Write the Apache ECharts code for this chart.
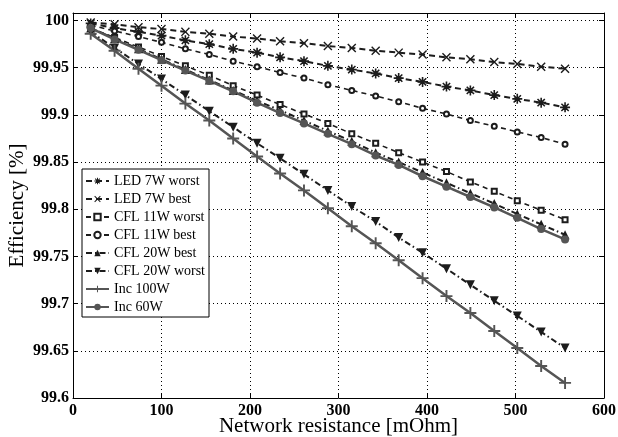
<!DOCTYPE html>
<html>
<head>
<meta charset="utf-8">
<script src="https://cdn.jsdelivr.net/npm/echarts@6/dist/echarts.min.js"></script>
<style>
html,body{margin:0;padding:0;background:#fff;}
#chart{width:618px;height:437px;}
</style>
</head>
<body>
<div id="chart"></div>
<script>
// Network resistance [mOhm]
const resistance = [20, 47, 74, 100, 127, 154, 181, 208, 234, 261, 288, 315, 342, 368, 395, 422, 449, 476, 502, 529, 556];

const seriesNames = ['LED 7W worst', 'LED 7W best', 'CFL 11W worst', 'CFL 11W best', 'CFL 20W best', 'CFL 20W worst', 'Inc 100W', 'Inc 60W'];

const led7Worst = [99.997, 99.992, 99.988, 99.984, 99.979, 99.975, 99.970, 99.966, 99.961, 99.957, 99.952, 99.948, 99.944, 99.939, 99.935, 99.930, 99.926, 99.921, 99.917, 99.913, 99.908];
const led7Best = [99.998, 99.996, 99.993, 99.991, 99.988, 99.986, 99.983, 99.981, 99.978, 99.976, 99.973, 99.971, 99.968, 99.966, 99.964, 99.961, 99.959, 99.956, 99.954, 99.951, 99.949];
const cfl11Worst = [99.992, 99.982, 99.972, 99.962, 99.952, 99.942, 99.931, 99.921, 99.911, 99.901, 99.891, 99.880, 99.870, 99.860, 99.850, 99.840, 99.829, 99.819, 99.809, 99.799, 99.789];
const cfl11Best = [99.995, 99.989, 99.983, 99.977, 99.970, 99.964, 99.957, 99.951, 99.945, 99.939, 99.932, 99.926, 99.920, 99.914, 99.907, 99.901, 99.894, 99.888, 99.882, 99.876, 99.869];
const cfl20Best = [99.992, 99.981, 99.970, 99.959, 99.948, 99.937, 99.926, 99.915, 99.905, 99.894, 99.883, 99.872, 99.860, 99.850, 99.839, 99.828, 99.817, 99.806, 99.795, 99.784, 99.773];
const cfl20Worst = [99.988, 99.971, 99.954, 99.938, 99.921, 99.904, 99.887, 99.870, 99.854, 99.837, 99.820, 99.803, 99.787, 99.770, 99.754, 99.737, 99.720, 99.703, 99.687, 99.670, 99.653];
const inc100 = [99.986, 99.968, 99.949, 99.931, 99.912, 99.894, 99.875, 99.856, 99.838, 99.820, 99.801, 99.782, 99.764, 99.746, 99.727, 99.708, 99.690, 99.671, 99.653, 99.634, 99.616];
const inc60 = [99.992, 99.980, 99.969, 99.958, 99.947, 99.936, 99.925, 99.913, 99.902, 99.891, 99.880, 99.869, 99.857, 99.847, 99.835, 99.824, 99.813, 99.802, 99.791, 99.779, 99.768];

const xTicks = [0, 100, 200, 300, 400, 500, 600];
const yTicks = [99.6, 99.65, 99.7, 99.75, 99.8, 99.85, 99.9, 99.95, 100];

const seriesValues = [led7Worst, led7Best, cfl11Worst, cfl11Best, cfl20Best, cfl20Worst, inc100, inc60];

const PLUS = 'path://M4.2,0 L5.8,0 L5.8,4.2 L10,4.2 L10,5.8 L5.8,5.8 L5.8,10 L4.2,10 L4.2,5.8 L0,5.8 L0,4.2 L4.2,4.2 Z';
const CROSS = 'path://M0,1.1 L1.1,0 L5,3.9 L8.9,0 L10,1.1 L6.1,5 L10,8.9 L8.9,10 L5,6.1 L1.1,10 L0,8.9 L3.9,5 Z';
const STAR = 'path://M4.2,0 L5.8,0 L5.8,4.2 L10,4.2 L10,5.8 L5.8,5.8 L5.8,10 L4.2,10 L4.2,5.8 L0,5.8 L0,4.2 L4.2,4.2 Z M0.8,1.9 L1.9,0.8 L5,3.9 L8.1,0.8 L9.2,1.9 L6.1,5 L9.2,8.1 L8.1,9.2 L5,6.1 L1.9,9.2 L0.8,8.1 L3.9,5 Z';

const dark = '#1c1c1c';
const gray = '#555555';
const styles = [
  {color: dark, symbol: STAR, size: 10, type: [6, 4], width: 2},
  {color: dark, symbol: CROSS, size: 9, type: [6, 4], width: 2},
  {color: dark, symbol: 'emptyRect', size: 5, type: [5, 4], width: 1.6},
  {color: dark, symbol: 'emptyCircle', size: 5, type: [5, 4], width: 1.6},
  {color: dark, symbol: 'triangle', size: 9, type: [6, 3, 1.5, 3], width: 2},
  {color: dark, symbol: 'triangle', rotate: 180, size: 9, type: [6, 3, 1.5, 3], width: 2},
  {color: gray, symbol: PLUS, size: 12, type: 'solid', width: 2.5},
  {color: gray, symbol: 'circle', size: 8, type: 'solid', width: 2.5}
];

const series = seriesNames.map((name, i) => ({
  name: name,
  type: 'line',
  xAxisIndex: 0,
  yAxisIndex: 0,
  data: resistance.map((x, j) => [x, seriesValues[i][j]]),
  symbol: styles[i].symbol,
  symbolSize: styles[i].size,
  symbolRotate: styles[i].rotate || 0,
  showAllSymbol: true,
  lineStyle: {color: styles[i].color, width: styles[i].width, type: styles[i].type},
  itemStyle: {color: styles[i].color, borderWidth: 1.5},
  emphasis: {disabled: true},
  animation: false
}));

const serif = 'Liberation Serif';
const chart = echarts.init(document.getElementById('chart'), null, {renderer: 'canvas'});
chart.setOption({
  backgroundColor: '#fff',
  animation: false,
  grid: {left: 73, right: 14, top: 13, bottom: 39, containLabel: false, outerBoundsMode: 'none'},
  legend: {
    data: seriesNames,
    orient: 'vertical',
    left: 82,
    top: 169,
    backgroundColor: '#fff',
    borderColor: '#000',
    borderWidth: 1,
    borderRadius: 0,
    padding: [5, 4, 3, 3],
    itemGap: 4,
    itemWidth: 23,
    itemHeight: 8,
    textStyle: {fontFamily: serif, fontSize: 14, color: '#000', lineHeight: 14},
    selectedMode: false
  },
  xAxis: [{
    type: 'value',
    min: xTicks[0],
    max: xTicks[xTicks.length - 1],
    interval: 100,
    name: 'Network resistance [mOhm]',
    nameLocation: 'middle',
    nameGap: 18,
    nameMoveOverlap: false,
    nameTextStyle: {fontFamily: serif, fontSize: 21, color: '#000'},
    axisLine: {show: true, onZero: false, lineStyle: {color: '#000', width: 1}},
    axisTick: {show: true, inside: true, length: 5, lineStyle: {color: '#000'}},
    axisLabel: {fontFamily: serif, fontSize: 16, fontWeight: 'bold', color: '#000', margin: 5},
    splitLine: {show: true, lineStyle: {color: '#000', type: [1, 3], width: 1}}
  }, {
    type: 'value',
    position: 'top',
    min: xTicks[0],
    max: xTicks[xTicks.length - 1],
    interval: 100,
    axisLine: {show: true, onZero: false, lineStyle: {color: '#000', width: 1}},
    axisTick: {show: true, inside: true, length: 5, lineStyle: {color: '#000'}},
    axisLabel: {show: false},
    splitLine: {show: false}
  }],
  yAxis: [{
    type: 'value',
    min: yTicks[0],
    max: 100.008,
    interval: 0.05,
    name: 'Efficiency [%]',
    nameLocation: 'middle',
    nameGap: 45,
    nameMoveOverlap: false,
    nameTextStyle: {fontFamily: serif, fontSize: 21, color: '#000'},
    axisLine: {show: true, onZero: false, lineStyle: {color: '#000', width: 1}},
    axisTick: {show: true, inside: true, length: 5, lineStyle: {color: '#000'}},
    axisLabel: {
      fontFamily: serif, fontSize: 16, fontWeight: 'bold', color: '#000', margin: 4,
      showMaxLabel: false,
      formatter: v => {
        const r = parseFloat(v.toFixed(2));
        return yTicks.indexOf(r) >= 0 ? String(r) : '';
      }
    },
    splitLine: {show: true, lineStyle: {color: '#000', type: [1, 3], width: 1}}
  }, {
    type: 'value',
    position: 'right',
    min: yTicks[0],
    max: 100.008,
    interval: 0.05,
    axisLine: {show: true, onZero: false, lineStyle: {color: '#000', width: 1}},
    axisTick: {show: true, inside: true, length: 5, lineStyle: {color: '#000'}},
    axisLabel: {show: false},
    splitLine: {show: false}
  }],
  series: series
});
</script>
</body>
</html>
